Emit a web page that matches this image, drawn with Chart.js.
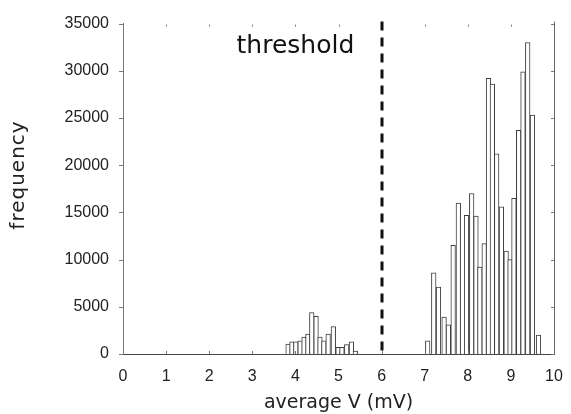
<!DOCTYPE html>
<html>
<head>
<meta charset="utf-8">
<title>average V histogram</title>
<script src="https://cdn.jsdelivr.net/npm/chart.js@4.4.1/dist/chart.umd.min.js"></script>
<style>
    html, body { margin: 0; padding: 0; background: #fff; }
    #hist { display: block; }
</style>
</head>
<body>
<canvas id="hist" width="571" height="414"></canvas>
<script>
// ==========================================
// HISTOGRAM OF AVERAGE V
// ==========================================

// bin centres (mV) and counts
const binCenters = [
    3.83, 3.92, 4.01, 4.11, 4.20, 4.29, 4.38, 4.48, 4.57, 4.66, 4.76, 4.88, 4.99, 5.08, 5.19, 5.30, 5.39,
    7.07, 7.21, 7.32, 7.45, 7.55, 7.66, 7.78, 7.97, 8.09, 8.19, 8.28, 8.38, 8.48, 8.57, 8.67,
    8.78, 8.89, 8.98, 9.07, 9.18, 9.28, 9.39, 9.50, 9.64
];
const frequency = [
    1050, 1300, 1300, 1400, 1800, 2100, 4400, 4000, 1800, 1400, 2100, 2900, 700, 700, 1000, 1300, 300,
    1400, 8600, 7100, 3900, 3100, 11500, 16000, 14700, 17000, 14600, 9200, 11700, 29200, 28600, 21200,
    15600, 10900, 10000, 16500, 23700, 29900, 33000, 25300, 2000
];

const xTicks = [0, 1, 2, 3, 4, 5, 6, 7, 8, 9, 10];
const yTicks = [0, 5000, 10000, 15000, 20000, 25000, 30000, 35000];

const thresholdV = 6;
const thresholdLabel = 'threshold';
const yTitle = 'frequency';

// frame ticks, right edge, threshold line, its label and the y title
const framePlugin = {
    id: 'frame',
    afterDatasetsDraw(chart) {
        const { ctx, chartArea: a, scales: { x, y } } = chart;
        ctx.save();

        // right edge
        ctx.strokeStyle = '#666';
        ctx.lineWidth = 1;
        ctx.beginPath();
        ctx.moveTo(Math.round(a.right) + 0.5, a.top - 2);
        ctx.lineTo(Math.round(a.right) + 0.5, a.bottom);
        ctx.stroke();

        // small tick marks (inside on bottom/top/right, outside on left)
        ctx.strokeStyle = '#777';
        ctx.beginPath();
        xTicks.forEach(v => {
            const px = Math.round(x.getPixelForValue(v)) + 0.5;
            ctx.moveTo(px, a.bottom);
            ctx.lineTo(px, a.bottom - 3);
            if (v > 0 && v < 10) {
                ctx.moveTo(px, a.top + 1);
                ctx.lineTo(px, a.top + 3);
            }
        });
        yTicks.forEach(v => {
            const py = Math.round(y.getPixelForValue(v)) + 0.5;
            ctx.moveTo(a.left - 4, py);
            ctx.lineTo(a.left, py);
            ctx.moveTo(a.right - 3, py);
            ctx.lineTo(a.right, py);
        });
        ctx.stroke();

        // threshold
        const tx = Math.round(x.getPixelForValue(thresholdV));
        ctx.strokeStyle = '#111';
        ctx.lineWidth = 3;
        ctx.setLineDash([9, 7]);
        ctx.beginPath();
        ctx.moveTo(tx, a.top - 2);
        ctx.lineTo(tx, a.bottom);
        ctx.stroke();
        ctx.setLineDash([]);

        ctx.fillStyle = '#111';
        ctx.font = '25px "DejaVu Sans"';
        ctx.textAlign = 'center';
        ctx.textBaseline = 'alphabetic';
        ctx.fillText(thresholdLabel, x.getPixelForValue(4.0), y.getPixelForValue(31900));

        // y title, slightly letter-spaced like the scan
        ctx.translate(19, 175);
        ctx.rotate(-Math.PI / 2);
        ctx.font = '20px "DejaVu Sans"';
        ctx.fillStyle = '#222';
        ctx.letterSpacing = '1px';
        ctx.textBaseline = 'middle';
        ctx.fillText(yTitle, 0, 0);

        ctx.restore();
    }
};

const histChart = new Chart(document.getElementById('hist'), {
    type: 'bar',
    data: {
        datasets: [{
            data: binCenters.map((v, i) => ({ x: v, y: frequency[i] })),
            backgroundColor: '#ffffff',
            borderColor: '#3c3c3c',
            borderWidth: 1,
            barThickness: 4.6
        }]
    },
    options: {
        responsive: false,
        animation: false,
        layout: {
            padding: { top: 20, right: 17, left: 0, bottom: 0 }
        },
        plugins: {
            legend: { display: false },
            tooltip: { enabled: false }
        },
        scales: {
            x: {
                type: 'linear',
                min: 0,
                max: 10,
                offset: false,
                afterBuildTicks: s => { s.ticks = xTicks.map(v => ({ value: v })); },
                afterFit: s => {
                    s.height = 60;
                    s.paddingLeft = 0;
                    s.paddingRight = 0;
                },
                grid: { display: false, drawTicks: false, offset: false },
                border: { display: true, color: '#444', width: 1 },
                ticks: {
                    color: '#222',
                    padding: 13,
                    maxRotation: 0,
                    callback: v => String(v),
                    font: { family: '"Liberation Sans", Arial, sans-serif', size: 16 }
                },
                title: {
                    display: true,
                    text: 'average V (mV)',
                    color: '#222',
                    padding: { top: 3, bottom: 0 },
                    font: { family: '"DejaVu Sans", sans-serif', size: 19 }
                }
            },
            y: {
                min: 0,
                max: 35000,
                afterBuildTicks: s => { s.ticks = yTicks.map(v => ({ value: v })); },
                afterFit: s => { s.width = 123; },
                grid: { display: false, drawTicks: false },
                border: { display: true, color: '#777', width: 1 },
                ticks: {
                    color: '#222',
                    padding: 14,
                    callback: v => String(v),
                    font: { family: '"Liberation Sans", Arial, sans-serif', size: 16 }
                },
                title: { display: false }
            }
        }
    },
    plugins: [framePlugin]
});
</script>
</body>
</html>
